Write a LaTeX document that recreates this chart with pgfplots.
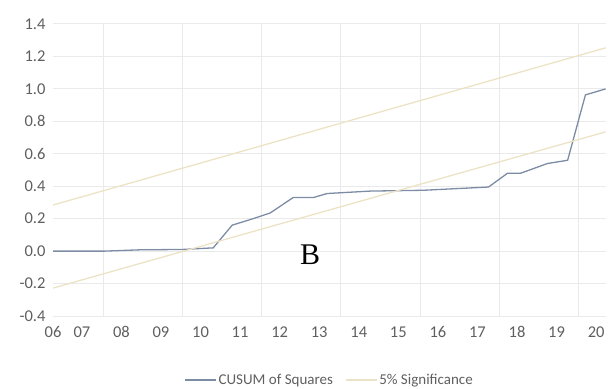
\documentclass[border=0pt]{standalone}
\usepackage{pgfplots}
\pgfplotsset{compat=1.18}
\usepackage{fontspec}
\setmainfont{Carlito}
\newfontfamily\serifB{Liberation Serif}
\definecolor{cusum}{RGB}{125,140,165}
\definecolor{sig}{RGB}{236,226,198}
\definecolor{gridc}{RGB}{234,234,234}
\definecolor{tickc}{RGB}{95,95,95}
\begin{document}
\begin{tikzpicture}
\useasboundingbox (-53bp,-73bp) rectangle (555bp,316bp);
\begin{axis}[
  at={(0,0)}, anchor=south west,
  scale only axis,
  width=553bp, height=292bp,
  xmin=6.27, xmax=20.25,
  ymin=-0.4, ymax=1.4,
  ytick={-0.4,-0.2,0,0.2,0.4,0.6,0.8,1.0,1.2,1.4},
  yticklabel style={/pgf/number format/fixed, /pgf/number format/fixed zerofill, /pgf/number format/precision=1, xshift=-4bp},
  /pgf/number format/assume math mode=true,
  xtick={6.27,7,8,9,10,11,12,13,14,15,16,17,18,19,20},
  xticklabels={06,07,08,09,10,11,12,13,14,15,16,17,18,19,20},
  extra x ticks={7.55,9.55,11.55,13.55,15.55,17.55,19.55},
  extra x tick labels={},
  extra x tick style={grid=major, major grid style={draw=gridc, line width=1bp}},
  ymajorgrids,
  major grid style={draw=gridc, line width=1bp},
  axis line style={draw=none},
  tick style={draw=none},
  tick label style={font=\fontsize{16.5bp}{18bp}\selectfont, text=tickc},
  xticklabel style={yshift=-7bp},
  legend columns=2,
  legend style={at={(0.5,-0.219)}, anchor=center, draw=none, fill=none,
    font=\fontsize{15bp}{17bp}\selectfont, text=tickc,
    /tikz/every even column/.append style={column sep=10bp}},
  legend image code/.code={\draw[#1] (0bp,0bp) -- (31bp,0bp);},
]
\addplot[cusum, line width=1.3bp] coordinates {
 (6.27,0.0) (7.58,0.0) (8.47,0.008) (9.53,0.01) (10.32,0.02)
 (10.80,0.16) (11.33,0.20) (11.76,0.235) (12.34,0.33) (12.85,0.33)
 (13.20,0.355) (14.29,0.37) (15.63,0.375) (17.28,0.395) (17.76,0.48)
 (18.09,0.48) (18.77,0.54) (19.28,0.56) (19.73,0.963) (20.24,1.0)
};
\addlegendentry{CUSUM of Squares}
\addplot[sig, line width=1.3bp] coordinates {(6.27,0.284) (20.24,1.253)};
\addlegendentry{5\% Significance}
\addplot[sig, line width=1.3bp, forget plot] coordinates {(6.27,-0.228) (20.24,0.735)};
\node[font=\serifB\fontsize{30bp}{32bp}\selectfont, text=black] at (axis cs:12.77,-0.025) {B};
\end{axis}
\end{tikzpicture}
\end{document}
